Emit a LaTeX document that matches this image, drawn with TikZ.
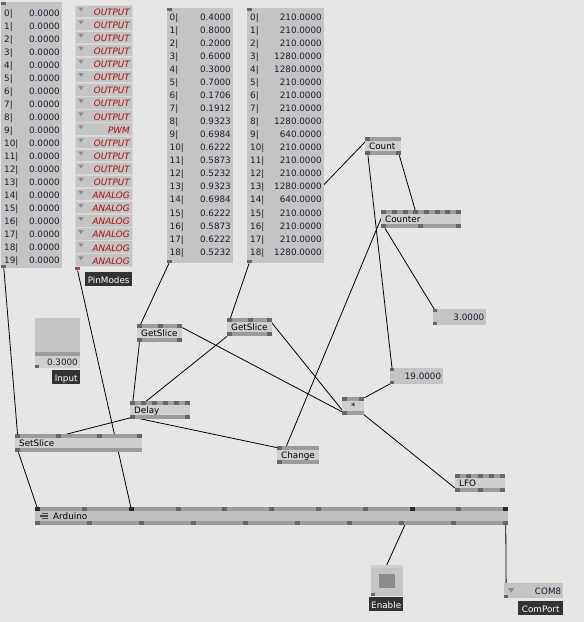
\documentclass[tikz,border=0pt]{standalone}
\usepackage{fontspec}
\setmainfont{DejaVu Sans}
\usetikzlibrary{positioning}

\definecolor{patchbg}{HTML}{E6E6E6}
\definecolor{stripe}{HTML}{9C9C9C}
\definecolor{boxmid}{HTML}{CFCFCF}
\definecolor{modmid}{HTML}{C0C0C0}
\definecolor{iofill}{HTML}{C4C4C4}
\definecolor{cellline}{HTML}{D8D8D8}
\definecolor{pincol}{HTML}{666666}
\definecolor{pinon}{HTML}{2A2A2A}
\definecolor{pinred}{HTML}{A04848}
\definecolor{tricol}{HTML}{8C8C8C}
\definecolor{enumred}{HTML}{B00C0C}
\definecolor{valtext}{HTML}{1C1C30}
\definecolor{tagbg}{HTML}{333333}

\pgfdeclarelayer{bg}
\pgfdeclarelayer{links}
\pgfsetlayers{bg,links,main}

\newcommand{\vvfont}{\fontsize{8.8}{10}\selectfont}

\tikzset{
  vbox/.style={rectangle, fill=boxmid, anchor=north west, inner xsep=4pt, inner ysep=0pt,
    minimum width=#1pt, minimum height=18pt, text height=6.6pt, text depth=0pt,
    /utils/exec={\pgfmathsetlengthmacro\vtw{#1pt-8pt}}, text width=\vtw, align=left, font=\vvfont,
    path picture={
      \fill[stripe] (path picture bounding box.north west) rectangle ([yshift=-4pt]path picture bounding box.north east);
      \fill[stripe] (path picture bounding box.south west) rectangle ([yshift=4pt]path picture bounding box.south east);
    }},
  iobox/.style={rectangle, fill=iofill, anchor=north west, inner xsep=2pt, inner ysep=0pt,
    minimum width=#1pt, minimum height=16pt, text height=6.6pt, text depth=0pt,
    /utils/exec={\pgfmathsetlengthmacro\vtw{#1pt-4pt}}, text width=\vtw, align=right, font=\vvfont, text=valtext},
  spreadbox/.style={rectangle, fill=iofill, anchor=north west, inner sep=0pt},
  enumcell/.style={rectangle, fill=iofill, draw=cellline, anchor=north west, inner xsep=2pt, inner ysep=0pt,
    minimum width=57pt, minimum height=12.4pt, text width=53pt, align=right, text height=8.6pt, text depth=0pt,
    font=\vvfont\itshape, text=enumred},
  vpin/.style={rectangle, fill=pincol, inner sep=0pt, minimum width=5pt, minimum height=4pt},
  tag/.style={rectangle, fill=tagbg, text=white, anchor=north west, inner sep=0pt,
    minimum width=#1pt, minimum height=14pt, text height=8.6pt, text depth=0pt, font=\vvfont},
  idxtxt/.style={anchor=base west, inner sep=0pt, font=\vvfont, text=valtext},
  valtxt/.style={anchor=base east, inner sep=0pt, font=\vvfont, text=valtext},
  link/.style={draw=black, line width=0.8pt},
}

\begin{document}
\begin{tikzpicture}[x=1pt, y=-1pt]
\useasboundingbox (0,0) rectangle (584,622);
\begin{pgfonlayer}{bg}
  \fill[patchbg] (0,0) rectangle (584,622);
\end{pgfonlayer}

\node[spreadbox, minimum width=61pt, minimum height=266pt] (zeros) at (1,2) {};
\node[vpin, anchor=north west, minimum height=3pt] (zeros-i) at (zeros.north west) {};
\node[vpin, anchor=south west, minimum height=3pt] (zeros-o) at (zeros.south west) {};
\foreach \i in {0,...,19}{
  \node[idxtxt] (zeros-n\i) at (4,{16.2+13.02*\i}) {\i|};
  \node[valtxt] (zeros-v\i) at (60,{16.2+13.02*\i}) {0.0000};
}

\foreach \m [count=\i from 0] in {OUTPUT,OUTPUT,OUTPUT,OUTPUT,OUTPUT,OUTPUT,OUTPUT,OUTPUT,OUTPUT,PWM,OUTPUT,OUTPUT,OUTPUT,OUTPUT,ANALOG,ANALOG,ANALOG,ANALOG,ANALOG,ANALOG}{
  \node[enumcell] (pm\i) at (74.5,{4.5+13.1*\i}) {\m};
  \fill[tricol] ([xshift=4pt,yshift=-3pt]pm\i.north west) -- ++(5,0) -- ++(-2.5,4) -- cycle;
}
\node[vpin, fill=pinred, anchor=north west, minimum height=3pt] (pm-o) at ([yshift=-1pt]pm19.south west) {};
\node[tag=47] (pm-tag) at (85,272) {PinModes};

\node[spreadbox, minimum width=66pt, minimum height=255pt] (ratios) at (167,8) {};
\node[vpin, anchor=north west, minimum height=3pt] (ratios-i) at (ratios.north west) {};
\node[vpin, anchor=south west, minimum height=3pt] (ratios-o) at (ratios.south west) {};
\foreach \v [count=\i from 0] in {0.4000,0.8000,0.2000,0.6000,0.3000,0.7000,0.1706,0.1912,0.9323,0.6984,0.6222,0.5873,0.5232,0.9323,0.6984,0.6222,0.5873,0.6222,0.5232}{
  \node[idxtxt] (ratios-n\i) at (169.5,{20.7+13.02*\i}) {\i|};
  \node[valtxt] (ratios-v\i) at (231,{20.7+13.02*\i}) {\v};
}

\node[spreadbox, minimum width=77pt, minimum height=255pt] (pulses) at (247,8) {};
\node[vpin, anchor=north west, minimum height=3pt] (pulses-i) at (pulses.north west) {};
\node[vpin, anchor=south west, minimum height=3pt] (pulses-o) at (pulses.south west) {};
\foreach \v [count=\i from 0] in {210.0000,210.0000,210.0000,1280.0000,1280.0000,210.0000,210.0000,210.0000,1280.0000,640.0000,210.0000,210.0000,210.0000,1280.0000,640.0000,210.0000,210.0000,210.0000,1280.0000}{
  \node[idxtxt] (pulses-n\i) at (250,{20.7+13.02*\i}) {\i|};
  \node[valtxt] (pulses-v\i) at (322,{20.7+13.02*\i}) {\v};
}

\node[spreadbox, minimum width=45pt, minimum height=50pt] (input) at (35,318) {};
\fill[stripe] ([yshift=16pt]input.south west) rectangle ([yshift=12pt]input.south east);
\fill[boxmid] ([yshift=12pt]input.south west) rectangle (input.south east);
\node[valtxt] (input-v) at (78,365) {0.3000};
\node[vpin, anchor=south west, minimum width=4pt, minimum height=3pt] (input-o) at (input.south west) {};
\node[tag=28] (input-tag) at (52,370) {Input};

\node[vbox=45] (sliceA) at (137,324) {GetSlice};
\node[vpin, anchor=north west] (sliceA-i1) at (sliceA.north west) {};
\node[vpin, anchor=north west] (sliceA-i2) at ([xshift=20.5pt]sliceA.north west) {};
\node[vpin, anchor=north east] (sliceA-i3) at (sliceA.north east) {};
\node[vpin, anchor=south west] (sliceA-o1) at (sliceA.south west) {};
\node[vpin, anchor=south east] (sliceA-o2) at (sliceA.south east) {};

\node[vbox=45] (sliceB) at (227,318) {GetSlice};
\node[vpin, anchor=north west] (sliceB-i1) at (sliceB.north west) {};
\node[vpin, anchor=north west] (sliceB-i2) at ([xshift=20.5pt]sliceB.north west) {};
\node[vpin, anchor=north east] (sliceB-i3) at (sliceB.north east) {};
\node[vpin, anchor=south west] (sliceB-o1) at (sliceB.south west) {};
\node[vpin, anchor=south east] (sliceB-o2) at (sliceB.south east) {};

\node[vbox=60] (delay) at (130,401) {Delay};
\foreach \k in {0,...,5}
  \node[vpin, anchor=north west] (delay-i\k) at ([xshift=\k*11pt]delay.north west) {};
\node[vpin, anchor=south west] (delay-o1) at (delay.south west) {};
\node[vpin, anchor=south east] (delay-o2) at (delay.south east) {};

\node[vbox=127] (setslice) at (15,434) {SetSlice};
\foreach \k in {0,1,2}
  \node[vpin, anchor=north west] (setslice-i\k) at ([xshift=\k*41pt]setslice.north west) {};
\node[vpin, anchor=north east] (setslice-i3) at (setslice.north east) {};
\node[vpin, anchor=south west] (setslice-o1) at (setslice.south west) {};

\node[vbox=42] (change) at (277,446) {Change};
\node[vpin, anchor=north west] (change-i1) at (change.north west) {};
\node[vpin, anchor=south west] (change-o1) at (change.south west) {};

\node[vbox=36] (count) at (365,137) {Count};
\node[vpin, anchor=north west] (count-i1) at (count.north west) {};
\node[vpin, anchor=south west] (count-o1) at (count.south west) {};
\node[vpin, anchor=south east] (count-o2) at (count.south east) {};

\node[vbox=80] (counter) at (381,210) {Counter};
\foreach \k in {0,...,7}
  \node[vpin, anchor=north west] (counter-i\k) at ([xshift=\k*10.7pt]counter.north west) {};
\node[vpin, anchor=south west] (counter-o1) at (counter.south west) {};
\node[vpin, anchor=south west] (counter-o2) at ([xshift=37pt]counter.south west) {};
\node[vpin, anchor=south east] (counter-o3) at (counter.south east) {};

\node[iobox=53] (three) at (433,309) {3.0000};
\node[vpin, anchor=north west, minimum width=4pt, minimum height=3pt] (three-i) at (three.north west) {};
\node[vpin, anchor=south west, minimum width=4pt, minimum height=3pt] (three-o) at (three.south west) {};

\node[iobox=53] (nineteen) at (390,368) {19.0000};
\node[vpin, anchor=north west, minimum width=4pt, minimum height=3pt] (nineteen-i) at (nineteen.north west) {};
\node[vpin, anchor=south west, minimum width=4pt, minimum height=3pt] (nineteen-o) at (nineteen.south west) {};

\node[vbox=22, align=center] (mult) at (342,397) {*};
\node[vpin, anchor=north west] (mult-i1) at (mult.north west) {};
\node[vpin, anchor=north east] (mult-i2) at (mult.north east) {};
\node[vpin, anchor=south west] (mult-o1) at (mult.south west) {};

\node[vbox=50] (lfo) at (455,474) {LFO};
\foreach \k in {0,...,4}
  \node[vpin, anchor=north west] (lfo-i\k) at ([xshift=\k*11.25pt]lfo.north west) {};
\node[vpin, anchor=south west] (lfo-o1) at (lfo.south west) {};
\node[vpin, anchor=south west] (lfo-o2) at ([xshift=22.5pt]lfo.south west) {};
\node[vpin, anchor=south east] (lfo-o3) at (lfo.south east) {};

\node[vbox=473, fill=modmid] (arduino) at (35,507) {\hspace*{14pt}Arduino};
\draw[line width=1.2pt, black!75] ([xshift=7pt,yshift=-6.5pt]arduino.north west) -- ++(6,0);
\draw[line width=1.2pt, black!75] ([xshift=5pt,yshift=-9pt]arduino.north west) -- ++(8,0);
\draw[line width=1.2pt, black!75] ([xshift=7pt,yshift=-11.5pt]arduino.north west) -- ++(6,0);
\foreach \k/\c in {0/pinon,1/pincol,2/pinon,3/pincol,4/pincol,5/pincol,6/pincol,7/pincol,8/pinon,9/pincol,10/pinon}
  \node[vpin, fill=\c, anchor=north west] (arduino-i\k) at ([xshift=\k*46.8pt]arduino.north west) {};
\foreach \k in {0,...,9}
  \node[vpin, anchor=south west] (arduino-o\k) at ([xshift=\k*52pt]arduino.south west) {};

\node[spreadbox, minimum width=32pt, minimum height=31pt] (enable) at (371,565) {};
\fill[boxmid] (enable.north west) rectangle ([yshift=-2.5pt]enable.north east);
\fill[tricol] ([xshift=8pt,yshift=-9pt]enable.north west) rectangle ([xshift=-8pt,yshift=8pt]enable.south east);
\node[vpin, anchor=south west, minimum width=4pt, minimum height=3pt] (enable-o) at (enable.south west) {};
\node[tag=34] (enable-tag) at (369,597) {Enable};

\node[iobox=59, minimum height=15pt] (comport) at (504,583) {COM8};
\fill[tricol] ([xshift=4pt,yshift=-5pt]comport.north west) -- ++(6,0) -- ++(-3,5) -- cycle;
\node[vpin, anchor=south west, minimum width=4pt, minimum height=3pt] (comport-o) at (comport.south west) {};
\node[tag=45] (comport-tag) at (518,601) {ComPort};

\begin{pgfonlayer}{links}
\draw[link] (zeros-o) -- (setslice-i0);
\draw[link] (pm-o) -- (arduino-i2);
\draw[link] (ratios-o) -- (sliceA-i1);
\draw[link] (pulses-o) -- (sliceB-i1);
\draw[link] (pulses-o) -- (count-i1);
\draw[link] (sliceA-o1) -- (delay-i0);
\draw[link] (sliceB-o1) -- (delay-i1);
\draw[link] (delay-o1) -- (setslice-i1);
\draw[link] (delay-o1) -- (change-i1);
\draw[link] (change-o1) -- (counter-i0);
\draw[link] (count-o1) -- (nineteen-i);
\draw[link] (count-o2) -- (counter-i3);
\draw[link] (counter-o1) -- (three-i);
\draw[link] (nineteen-o) -- (mult-i2);
\draw[link] (lfo-o1) -- (mult-i1);
\draw[link] (mult-o1) -- (sliceA-i3);
\draw[link] (mult-o1) -- (sliceB-i3);
\draw[link] (setslice-o1) -- (arduino-i0);
\draw[link] (enable-o) -- (arduino-i8);
\draw[link] (comport-o) -- (arduino-i10);
\end{pgfonlayer}
\end{tikzpicture}
\end{document}
